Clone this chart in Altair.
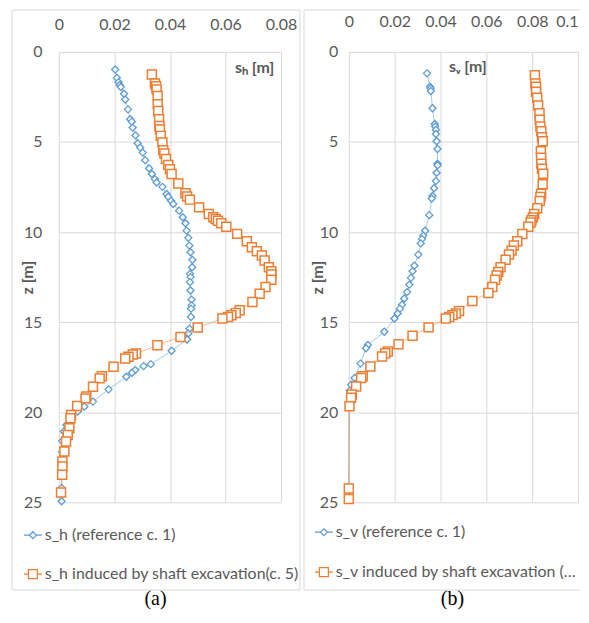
import altair as alt
import pandas as pd

# ---------------- data ----------------
# panel (a): horizontal displacement s_h [m] vs depth z [m]
sh_ref_z = [0.98, 1.44, 1.68, 1.84, 1.95, 2.32, 2.64, 3.19, 3.74, 3.87, 4.20, 4.63, 5.07, 5.31, 5.59,
            6.01, 6.47, 6.78, 7.06, 7.25, 7.49, 7.89, 8.04, 8.26, 8.44, 8.81, 9.18, 9.51, 9.92, 10.32,
            10.75, 11.12, 11.54, 11.95, 12.32, 12.50, 12.78, 13.24, 13.75, 14.07, 14.25, 14.71, 15.36,
            15.63, 15.96, 16.59, 17.33, 17.44, 17.66, 17.81, 18.03, 18.73, 19.41, 19.69, 19.96, 20.15,
            20.70, 21.07, 21.60, 22.20, 23.20, 24.20, 24.94]
sh_ref_x = [0.0203, 0.0209, 0.0215, 0.0219, 0.0223, 0.0235, 0.0239, 0.0249, 0.0257, 0.0263, 0.0266,
            0.0276, 0.0284, 0.0293, 0.0302, 0.0311, 0.0325, 0.0335, 0.0346, 0.0352, 0.0373, 0.0388,
            0.0394, 0.0404, 0.0412, 0.0433, 0.0446, 0.0456, 0.0460, 0.0466, 0.0470, 0.0474, 0.0481,
            0.0480, 0.0472, 0.0474, 0.0472, 0.0474, 0.0478, 0.0478, 0.0476, 0.0476, 0.0470, 0.0466,
            0.0462, 0.0406, 0.0331, 0.0305, 0.0275, 0.0263, 0.0243, 0.0179, 0.0123, 0.0092, 0.0068,
            0.0042, 0.0027, 0.0018, 0.0012, 0.0012, 0.0011, 0.0010, 0.0010]
sh_exc_z = [1.25, 1.75, 1.90, 2.08, 2.45, 2.91, 3.28, 3.74, 4.11, 4.30, 4.66, 5.03, 5.46, 5.64, 5.95,
            6.27, 6.51, 6.78, 7.30, 7.85, 8.02, 8.20, 8.63, 9.00, 9.18, 9.27, 9.37, 9.51, 9.70, 10.10,
            10.51, 10.84, 11.06, 11.30, 11.58, 11.95, 12.17, 12.35, 12.65, 13.05, 13.42, 13.88, 14.34,
            14.49, 14.62, 14.71, 14.80, 15.30, 15.82, 16.28, 16.74, 16.80, 16.92, 17.02, 17.48, 18.00,
            18.12, 18.58, 19.13, 19.23, 19.65, 20.15, 20.33, 20.89, 21.26, 21.62, 22.18, 22.73, 23.01,
            23.47, 24.45]
sh_exc_x = [0.0335, 0.0346, 0.0350, 0.0352, 0.0356, 0.0356, 0.0358, 0.0361, 0.0362, 0.0364, 0.0367,
            0.0373, 0.0376, 0.0380, 0.0386, 0.0394, 0.0400, 0.0406, 0.0430, 0.0456, 0.0462, 0.0472,
            0.0505, 0.0540, 0.0556, 0.0565, 0.0573, 0.0585, 0.0603, 0.0642, 0.0677, 0.0695, 0.0713,
            0.0731, 0.0741, 0.0756, 0.0765, 0.0765, 0.0765, 0.0744, 0.0723, 0.0697, 0.0651, 0.0637,
            0.0621, 0.0609, 0.0589, 0.0500, 0.0438, 0.0355, 0.0278, 0.0266, 0.0251, 0.0239, 0.0197,
            0.0155, 0.0147, 0.0123, 0.0099, 0.0096, 0.0066, 0.0044, 0.0042, 0.0038, 0.0032, 0.0026,
            0.0020, 0.0013, 0.0013, 0.0012, 0.0008]

# panel (b): vertical displacement s_v [m] vs depth z [m]
sv_ref_z = [1.19, 1.93, 2.02, 2.17, 3.13, 4.00, 4.14, 4.32, 4.56, 4.96, 5.39, 6.21, 6.30, 6.71, 7.17,
            7.57, 8.00, 8.14, 9.06, 9.93, 10.20, 10.39, 10.63, 11.25, 11.86, 12.17, 12.54, 12.92, 13.33,
            13.69, 14.03, 14.25, 14.52, 14.80, 15.53, 16.27, 16.45, 17.30, 18.10, 18.47, 18.80, 19.50,
            24.23, 24.81]
sv_ref_x = [0.0341, 0.0354, 0.0357, 0.0358, 0.0365, 0.0375, 0.0377, 0.0380, 0.0380, 0.0383, 0.0387,
            0.0387, 0.0387, 0.0383, 0.0380, 0.0372, 0.0365, 0.0362, 0.0351, 0.0333, 0.0325, 0.0319,
            0.0314, 0.0303, 0.0286, 0.0278, 0.0271, 0.0264, 0.0254, 0.0242, 0.0232, 0.0223, 0.0213,
            0.0199, 0.0155, 0.0083, 0.0075, 0.0051, 0.0025, 0.0010, 0.0004, 0.0, 0.0, 0.0]
sv_exc_z = [1.29, 1.75, 1.93, 2.21, 2.54, 2.98, 3.40, 3.77, 4.14, 4.41, 4.74, 4.96, 5.51, 5.88, 6.21,
            6.49, 6.76, 7.35, 7.87, 8.05, 8.27, 8.68, 9.00, 9.19, 9.34, 9.47, 9.71, 10.11, 10.51, 10.75,
            11.03, 11.25, 11.54, 11.95, 12.22, 12.41, 12.65, 13.05, 13.38, 13.82, 14.38, 14.52, 14.61,
            14.71, 14.80, 15.29, 15.75, 16.23, 16.63, 16.72, 16.91, 17.46, 18.00, 18.10, 18.57, 19.02,
            19.20, 19.67, 24.23, 24.81]
sv_exc_x = [0.0812, 0.0814, 0.0817, 0.0817, 0.0822, 0.0826, 0.0832, 0.0833, 0.0836, 0.0840, 0.0843,
            0.0846, 0.0838, 0.0839, 0.0840, 0.0843, 0.0848, 0.0846, 0.0839, 0.0836, 0.0833, 0.0822,
            0.0809, 0.0803, 0.0797, 0.0793, 0.0783, 0.0757, 0.0735, 0.0720, 0.0710, 0.0699, 0.0684,
            0.0662, 0.0652, 0.0645, 0.0638, 0.0626, 0.0609, 0.0539, 0.0481, 0.0467, 0.0452, 0.0438,
            0.0423, 0.0348, 0.0278, 0.0217, 0.0170, 0.0159, 0.0145, 0.0094, 0.0061, 0.0054, 0.0032,
            0.0013, 0.0010, 0.0003, 0.0, 0.0]

series_a = ["s_h (reference c. 1)", "s_h induced by shaft excavation(c. 5)"]
series_b = ["s_v (reference c. 1)", "s_v induced by shaft excavation (c. 5)"]
z_ticks = [0, 5, 10, 15, 20, 25]
xa_ticks = [0, 0.02, 0.04, 0.06, 0.08]
xb_ticks = [0, 0.02, 0.04, 0.06, 0.08, 0.1]

# ---------------- style ----------------
BLUE = "#5B9BD5"
ORANGE = "#ED7D31"
TXT = "#595959"
GRID = "#D9D9D9"
FONT = "Lato"
H = 452
FR_TOP, FR_BOT, CAP_Y = -42, 540, 549

# legend symbols: line with a diamond / a square on it
DIAMOND_LEG = "M-1,0H-0.39M0,-0.39L0.39,0L0,0.39L-0.39,0ZM0.39,0H1"
SQUARE_LEG = "M-1,0H-0.5M-0.5,-0.5H0.5V0.5H-0.5ZM0.5,0H1"


def panel(names, rx, rz, ex, ez, xmax, xticks, xtitle, xtitle_x, xtitle_y, xlab_pad, width,
          ylab_pad, legx, legy, rowpad, lablimit, frame, caption, cap_x):
    ref, exc = names
    df = pd.DataFrame({
        "s": list(rx) + list(ex),
        "z": list(rz) + list(ez),
        "series": [ref] * len(rx) + [exc] * len(ex),
        "i": list(range(len(rx) + len(ex))),
    })
    xenc = alt.X("s:Q", scale=alt.Scale(domain=[0, xmax], nice=False, zero=False),
                 axis=alt.Axis(orient="top", values=xticks, format=".2~f", grid=True,
                               gridColor=GRID, domain=False, ticks=False, labelFlush=False,
                               labelOverlap=False, labelFont=FONT, labelFontSize=16,
                               labelAlign={"condition": {"test": "datum.value >= 0.099",
                                                         "value": "right"}, "value": "center"},
                               labelColor=TXT, labelPadding=xlab_pad, title=xtitle,
                               titleX=xtitle_x, titleY=xtitle_y, titleAlign="center",
                               titleBaseline="middle", titleAngle=0, titleFont=FONT,
                               titleFontSize=16, titleFontWeight="bold", titleColor=TXT))
    yenc = alt.Y("z:Q", scale=alt.Scale(domain=[0, 25], reverse=True, nice=False, zero=False),
                 axis=alt.Axis(values=z_ticks, format="d", grid=True, gridColor=GRID,
                               domain=False, ticks=False, labelFlush=False, labelOverlap=False,
                               labelFont=FONT, labelFontSize=16, labelColor=TXT,
                               labelPadding=ylab_pad, title="z [m]", titleX=-31, titleY=H / 2,
                               titleAngle=-90, titleAlign="center", titleBaseline="middle",
                               titleFont=FONT, titleFontSize=16, titleFontWeight="bold",
                               titleColor=TXT))
    cscale = alt.Scale(domain=[ref, exc], range=[BLUE, ORANGE])
    sscale = alt.Scale(domain=[ref, exc], range=[DIAMOND_LEG, SQUARE_LEG])
    legend = alt.Legend(
        title=None, orient="none", legendX=legx, legendY=legy, direction="vertical",
        symbolSize=324, rowPadding=rowpad, labelFont=FONT, labelFontSize=16,
        labelColor=TXT, labelLimit=lablimit, labelOffset=2, padding=0,
        symbolStrokeWidth=1.2, symbolFillColor="white", symbolOpacity=1,
    )
    layers = []
    for name, col, shp, sz, sw in [(ref, BLUE, "diamond", 50, 1.3), (exc, ORANGE, "square", 81, 1.5)]:
        base = alt.Chart(df).transform_filter(alt.datum.series == name)
        layers.append(base.mark_line(color=col, strokeWidth=1, opacity=0.55).encode(
            x=xenc, y=yenc, order="i:Q"))
        layers.append(base.mark_point(shape=shp, size=sz, filled=False, fill="white",
                                      color=col, strokeWidth=sw, opacity=1).encode(x=xenc, y=yenc))
    # legend-only layer: the rows carry only the series names (invisible marks)
    leg_df = pd.DataFrame({"series": [ref, exc]})
    leg = alt.Chart(leg_df).mark_point(filled=False, strokeWidth=1.2, opacity=0, size=1).encode(
        color=alt.Color("series:N", scale=cscale, legend=legend),
        shape=alt.Shape("series:N", scale=sscale, legend=legend),
        x=alt.value(10), y=alt.value(10))
    cap = alt.Chart(pd.DataFrame({"t": [caption]})).mark_text(
        font="Liberation Serif", fontSize=20, color="black", align="center", baseline="middle"
    ).encode(text="t:N", x=alt.value(cap_x), y=alt.value(CAP_Y))
    return alt.layer(*frame, *layers, leg, cap).properties(width=width, height=H)


one = pd.DataFrame({"k": [0]})
frame_a = [alt.Chart(one).mark_rect(filled=False, stroke=GRID, strokeWidth=1).encode(
    x=alt.value(-47), x2=alt.value(242), y=alt.value(FR_TOP), y2=alt.value(FR_BOT))]
frame_b = [
    alt.Chart(one).mark_rule(color=GRID, strokeWidth=1).encode(
        x=alt.value(-45), y=alt.value(FR_TOP), y2=alt.value(FR_BOT)),
    alt.Chart(one).mark_rule(color=GRID, strokeWidth=1).encode(
        x=alt.value(-45), x2=alt.value(232), y=alt.value(FR_TOP)),
    alt.Chart(one).mark_rule(color=GRID, strokeWidth=1).encode(
        x=alt.value(-45), x2=alt.value(232), y=alt.value(FR_BOT)),
]

pa = panel(series_a, sh_ref_x, sh_ref_z, sh_exc_x, sh_exc_z, 0.08, xa_ticks, "sₕ [m]", 196, 16,
           19, 223, 17, -36, 475, 21, 300, frame_a, "(a)", 97)
pb = panel(series_b, sv_ref_x, sv_ref_z, sv_exc_x, sv_exc_z, 0.1, xb_ticks, "sᵥ [m]", 119, 15,
           22, 230, 11, -35, 472, 22, 246, frame_b, "(b)", 104)

chart = alt.hconcat(pa, pb, spacing=2).resolve_scale(
    color="independent", shape="independent"
).resolve_legend(
    color="independent", shape="independent"
).properties(
    padding={"left": 3, "top": 0, "right": 0, "bottom": 0}, background="white"
).configure_view(stroke="transparent")

chart.save("out.html", embed_options={"renderer": "svg", "actions": False})
